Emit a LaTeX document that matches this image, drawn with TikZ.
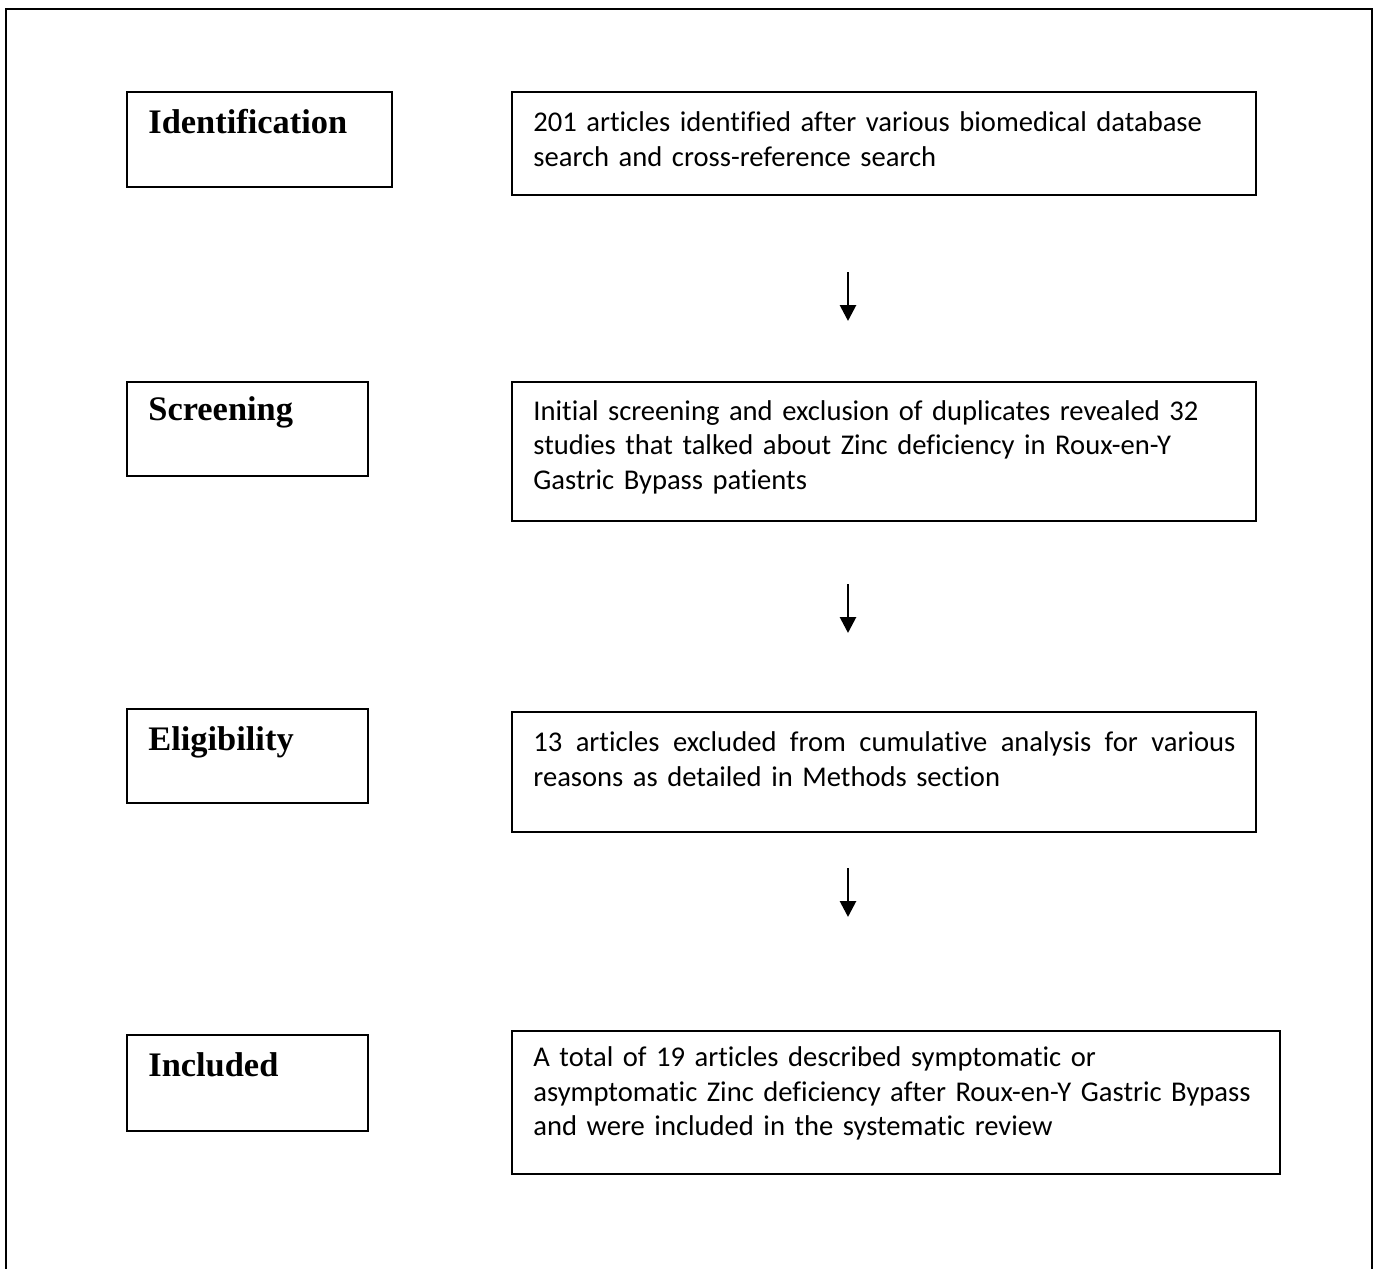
\documentclass[tikz,border=0pt]{standalone}
\usepackage{fontspec}
\setmainfont{Carlito}[Ligatures=NoCommon]
\newfontfamily\labelfont{Liberation Serif}
\usetikzlibrary{fit,arrows.meta}
\begin{document}
\begin{tikzpicture}[x=0.5pt,y=-0.5pt,
  box/.style={draw=black, line width=1pt, inner sep=0pt},
  stagelabel/.style={anchor=base west, inner sep=0pt, font=\labelfont\bfseries\fontsize{17.2}{20}\selectfont},
  bodytext/.style={anchor=base west, inner sep=0pt, align=left, text width=380pt, font=\fontsize{14.3}{17.3}\selectfont},
  flow/.style={line width=1.4pt, -{Triangle[width=8pt,length=8pt]}}]
\useasboundingbox (0,0) rectangle (1373,1269);
\draw[line width=1pt] (5.5,1280) -- (5.5,9) -- (1371.5,9) -- (1371.5,1280);

% stage label boxes
\node[box, fit={(127,92) (392,187)}] (l1) {};
\node[box, fit={(127,381.7) (368,476)}] (l2) {};
\node[box, fit={(127,709.3) (368,803.3)}] (l3) {};
\node[box, fit={(127,1035) (368,1131)}] (l4) {};
\node[stagelabel] (l1t) at (148,133.3) {Identification};
\node[stagelabel] (l2t) at (148,420) {Screening};
\node[stagelabel] (l3t) at (148,750) {Eligibility};
\node[stagelabel] (l4t) at (148,1076) {Included};

% content boxes
\node[box, fit={(511.7,92.3) (1256,195)}] (b1) {};
\node[box, fit={(511.7,381.7) (1256,520.5)}] (b2) {};
\node[box, fit={(511.7,712.3) (1256,832.3)}] (b3) {};
\node[box, fit={(511.7,1030.7) (1280,1174)}] (b4) {};
\node[bodytext] (b1t) at (533,131.7) {201 articles identified after various biomedical database\\search and cross-reference search};
\node[bodytext] (b2t) at (533,420) {Initial screening and exclusion of duplicates revealed 32\\studies that talked about Zinc deficiency in Roux-en-Y\\Gastric Bypass patients};
\node[bodytext] (b3t) at (533,751.7) {\makebox[351pt][l]{13 \hfill articles \hfill excluded \hfill from \hfill cumulative \hfill analysis \hfill for \hfill various}\\reasons as detailed in Methods section};
\node[bodytext] (b4t) at (533,1066.7) {A total of 19 articles described symptomatic or\\asymptomatic Zinc deficiency after Roux-en-Y Gastric Bypass\\and were included in the systematic review};

% connectors
\coordinate (a1s) at (848,272);
\coordinate (a1e) at (848,321);
\coordinate (a2s) at (848,584);
\coordinate (a2e) at (848,633);
\coordinate (a3s) at (848,868);
\coordinate (a3e) at (848,917);
\draw[flow] (a1s) -- (a1e);
\draw[flow] (a2s) -- (a2e);
\draw[flow] (a3s) -- (a3e);
\end{tikzpicture}
\end{document}
